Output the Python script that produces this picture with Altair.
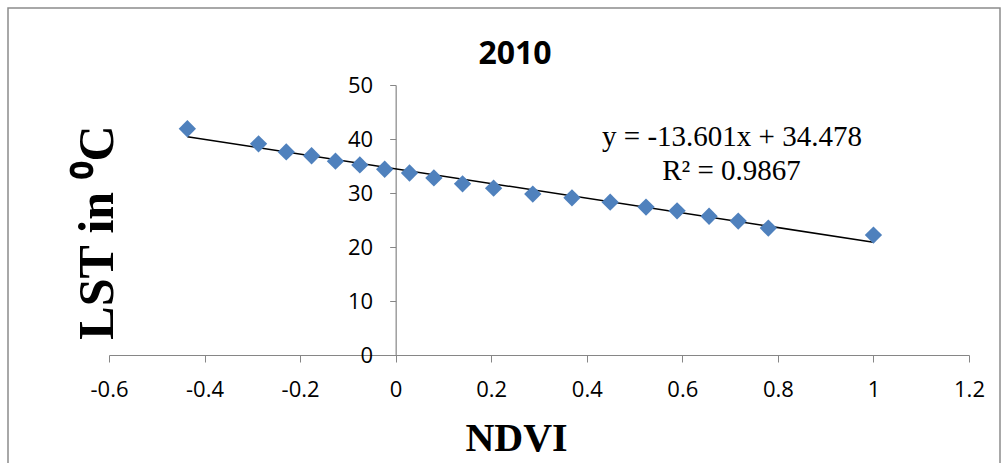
import altair as alt
import pandas as pd

# ---- data ----
ndvi = [-0.436, -0.287, -0.229, -0.176, -0.126, -0.075, -0.023, 0.029, 0.080, 0.140,
        0.205, 0.287, 0.369, 0.449, 0.524, 0.589, 0.656, 0.717, 0.780, 1.0]
lst = [41.9, 39.1, 37.6, 36.9, 35.9, 35.2, 34.4, 33.7, 32.8, 31.7,
       30.9, 29.8, 29.1, 28.3, 27.4, 26.7, 25.7, 24.8, 23.5, 22.2]

slope = -13.601
intercept = 34.478
eq_labels = ["y = -13.601x + 34.478", "R\u00b2 = 0.9867"]
eq_x = [0.704, 0.703]
eq_y = [38.7, 32.4]

chart_title = ["2010"]

x_ticks = [-0.6, -0.4, -0.2, 0, 0.2, 0.4, 0.6, 0.8, 1, 1.2]
y_ticks = [0, 10, 20, 30, 40, 50]

pts = pd.DataFrame({"NDVI": ndvi, "LST": lst})
line_df = pd.DataFrame({"NDVI": [min(ndvi), max(ndvi)]})
line_df["LST"] = slope * line_df["NDVI"] + intercept
eq_df = pd.DataFrame({"NDVI": eq_x, "LST": eq_y, "label": eq_labels})
title_df = pd.DataFrame({"label": chart_title})
frame_df = pd.DataFrame({"k": [0]})

W, H = 860, 270
AX = "#868686"

xs = alt.Scale(domain=[-0.6, 1.2], nice=False, zero=False)
ys = alt.Scale(domain=[0, 50], nice=False)

y_offset = -(0 - (-0.6)) / 1.8 * W  # put y axis at x = 0

x_axis = alt.Axis(
    values=x_ticks, labelExpr="'' + datum.value", grid=False, labelFlush=False,
    domainColor=AX, tickColor=AX, tickSize=7, domainWidth=1.2,
    labelFont="Open Sans", labelFontSize=22, labelColor="black", labelPadding=17,
    title="NDVI", titleFont="Liberation Serif", titleFontSize=40, titleFontWeight="bold",
    titleColor="black", titleX=407, titleY=95, titleAlign="center", titleBaseline="alphabetic",
)
y_axis = alt.Axis(
    values=y_ticks, grid=False, offset=y_offset, labelFlush=False,
    domainColor=AX, tickColor=AX, tickSize=6, domainWidth=1.2,
    labelFont="Open Sans", labelFontSize=22, labelColor="black", labelPadding=17,
    title="LST in \u2070C", titleFont="Liberation Serif", titleFontSize=50, titleFontWeight="bold",
    titleColor="black", titleAngle=270, titleX=3 - (-y_offset), titleY=147,
    titleAlign="center", titleBaseline="alphabetic",
)

points = alt.Chart(pts).mark_point(
    shape="diamond", filled=True, size=300, color="#4F81BD", opacity=1
).encode(
    x=alt.X("NDVI:Q", scale=xs, axis=x_axis),
    y=alt.Y("LST:Q", scale=ys, axis=y_axis),
)

trend = alt.Chart(line_df).mark_line(color="black", strokeWidth=1.5).encode(
    x=alt.X("NDVI:Q", scale=xs),
    y=alt.Y("LST:Q", scale=ys),
)

eq = alt.Chart(eq_df).mark_text(
    font="Liberation Serif", fontSize=29, align="center", baseline="alphabetic", color="black"
).encode(
    x=alt.X("NDVI:Q", scale=xs),
    y=alt.Y("LST:Q", scale=ys),
    text="label:N",
)

title = alt.Chart(title_df).mark_text(
    font="Open Sans", fontSize=32, fontWeight="bold", align="center",
    baseline="alphabetic", color="black"
).encode(
    x=alt.value(406), y=alt.value(-21), text="label:N"
)

frame = alt.Chart(frame_df).mark_rect(
    filled=False, stroke="#8c8c8c", strokeWidth=1.5
).encode(
    x=alt.value(-101), x2=alt.value(891), y=alt.value(-77), y2=alt.value(395)
)

chart = alt.layer(frame, trend, points, eq, title).properties(
    width=W, height=H,
    padding={"left": 109, "top": 85, "right": 33, "bottom": 108},
    autosize="none",
).configure_view(strokeWidth=0)

chart.save("out.html", embed_options={"renderer": "svg", "actions": False})
